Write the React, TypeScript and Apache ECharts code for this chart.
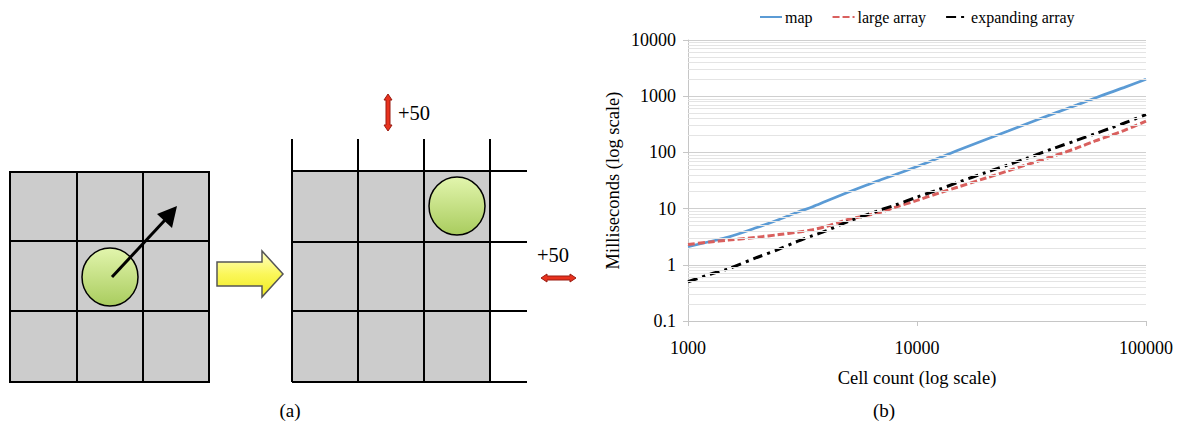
import React, { useEffect, useRef } from "react";
import * as echarts from "echarts";

// ---------- data ----------
const cellCounts = [1000, 1250, 1500, 2000, 2500, 3000, 3500, 4000, 5000, 6000, 7000, 8000, 10000, 12500, 15000, 20000, 25000, 30000, 40000, 50000, 60000, 70000, 80000, 100000];
const mapMs = [2.1, 2.6, 3.1, 4.6, 6.4, 8.6, 10.8, 13.5, 19.5, 26, 33, 40, 56, 80, 108, 170, 240, 320, 500, 700, 930, 1170, 1420, 2000];
const largeArrayMs = [2.3, 2.55, 2.75, 3.1, 3.45, 3.8, 4.2, 4.8, 6.4, 7.5, 8.7, 10.5, 14, 19, 24, 35, 47, 60, 88, 120, 160, 200, 245, 360];
const expandingArrayMs = [0.5, 0.68, 0.85, 1.35, 1.9, 2.6, 3.3, 4.0, 5.9, 7.7, 9.6, 11.5, 16, 22, 29, 44, 60, 78, 120, 165, 215, 270, 330, 470];

const seriesNames = ["map", "large array", "expanding array"];
const yTickLabels = ["0.1", "1", "10", "100", "1000", "10000"];
const xTickLabels = ["1000", "10000", "100000"];
const decades = [0.1, 1, 10, 100, 1000];
const minorMultipliers = [2, 3, 4, 5, 6, 7, 8, 9];

const FONT = "Liberation Serif";

function pairs(ys: number[]) {
  return cellCounts.map((x, i) => [x, ys[i]]);
}

function buildDiagram(): any[] {
  const els: any[] = [];
  const black = { stroke: "#000", lineWidth: 2 };
  const mkGreen = () =>
    new echarts.graphic.LinearGradient(0, 0, 0, 1, [
      { offset: 0, color: "#e2f5ad" },
      { offset: 1, color: "#a9cc5e" },
    ]);
  // Left grid
  els.push({ type: "rect", shape: { x: 10, y: 172, width: 199, height: 210 }, style: { fill: "#cccccc", stroke: "#000", lineWidth: 2 } });
  [77, 143].forEach((x) => els.push({ type: "line", shape: { x1: x, y1: 172, x2: x, y2: 382 }, style: black }));
  [241, 311].forEach((y) => els.push({ type: "line", shape: { x1: 10, y1: y, x2: 209, y2: y }, style: black }));
  els.push({ type: "ellipse", shape: { cx: 110, cy: 277, rx: 28, ry: 29 }, style: { fill: mkGreen(), stroke: "#000", lineWidth: 1.5 } });
  els.push({ type: "line", shape: { x1: 112, y1: 277, x2: 165, y2: 220 }, style: { stroke: "#000", lineWidth: 3 } });
  els.push({ type: "polygon", shape: { points: [[177, 206], [157, 214], [172, 228]] }, style: { fill: "#000" } });

  // Yellow block arrow
  els.push({
    type: "polygon",
    shape: { points: [[217, 262], [262, 262], [262, 251], [283, 274], [262, 297], [262, 286], [217, 286]] },
    style: {
      fill: new echarts.graphic.LinearGradient(0, 0, 0, 1, [
        { offset: 0, color: "#ffffc8" },
        { offset: 0.5, color: "#fbf75a" },
        { offset: 1, color: "#f0ea20" },
      ]),
      stroke: "#555",
      lineWidth: 1.5,
    },
  });

  // Right grid
  els.push({ type: "rect", shape: { x: 292, y: 171, width: 198, height: 211 }, style: { fill: "#cccccc" } });
  [292, 358, 424, 490].forEach((x) => els.push({ type: "line", shape: { x1: x, y1: 139, x2: x, y2: 382 }, style: black }));
  [171, 242, 311, 382].forEach((y) => els.push({ type: "line", shape: { x1: 292, y1: y, x2: 527, y2: y }, style: black }));
  els.push({ type: "ellipse", shape: { cx: 457, cy: 206, rx: 28, ry: 29 }, style: { fill: mkGreen(), stroke: "#000", lineWidth: 1.5 } });

  // Red double arrows
  const redStyle = { fill: "#e8321e", stroke: "#9a1b10", lineWidth: 1 };
  els.push({
    type: "polygon",
    shape: { points: [[388, 94], [392, 100], [390, 100], [390, 125], [392, 125], [388, 131], [384, 125], [386, 125], [386, 100], [384, 100]] },
    style: redStyle,
  });
  els.push({
    type: "polygon",
    shape: { points: [[541, 278], [547, 274], [547, 276], [570, 276], [570, 274], [576, 278], [570, 282], [570, 280], [547, 280], [547, 282]] },
    style: redStyle,
  });
  els.push({ type: "text", style: { text: "+50", x: 398, y: 113, fontSize: 20.5, fontFamily: FONT, fill: "#000", align: "left", verticalAlign: "middle" } });
  els.push({ type: "text", style: { text: "+50", x: 537, y: 255, fontSize: 20.5, fontFamily: FONT, fill: "#000", align: "left", verticalAlign: "middle" } });

  // Captions
  els.push({ type: "text", style: { text: "(a)", x: 290, y: 410, fontSize: 19, fontFamily: FONT, fill: "#000", align: "center", verticalAlign: "middle" } });
  els.push({ type: "text", style: { text: "(b)", x: 884, y: 410, fontSize: 19, fontFamily: FONT, fill: "#000", align: "center", verticalAlign: "middle" } });
  return els;
}

export default function App() {
  const ref = useRef<HTMLDivElement>(null);
  useEffect(() => {
    if (!ref.current) return;
    const chart = echarts.init(ref.current, undefined, { renderer: "svg" });
    const minorValues: number[] = [];
    decades.forEach((d) => minorMultipliers.forEach((m) => minorValues.push(d * m)));

    chart.setOption({
      animation: false,
      backgroundColor: "#fff",
      textStyle: { fontFamily: FONT },
      legend: {
        data: seriesNames,
        left: 759,
        top: 9,
        itemWidth: 22,
        itemHeight: 12,
        itemGap: 19,
        itemStyle: { opacity: 0 },
        padding: 0,
        textStyle: { fontSize: 16, fontFamily: FONT, color: "#000", padding: [0, 0, 0, -2] },
      },
      grid: { left: 688, top: 40, width: 458, height: 281, containLabel: false },
      xAxis: {
        type: "log",
        logBase: 10,
        min: 1000,
        max: 100000,
        name: "Cell count (log scale)",
        nameLocation: "middle",
        nameGap: 47,
        nameTextStyle: { fontSize: 18.5, fontFamily: FONT, color: "#000" },
        axisLine: { lineStyle: { color: "#c6c6c6", width: 1 } },
        axisTick: { show: true, length: 5, lineStyle: { color: "#c6c6c6" } },
        axisLabel: {
          fontSize: 18,
          fontFamily: FONT,
          color: "#000",
          margin: 18,
          formatter: (v: number) => xTickLabels[Math.round(Math.log10(v)) - 3] ?? "",
        },
        splitLine: { show: false },
      },
      yAxis: {
        type: "log",
        logBase: 10,
        min: 0.1,
        max: 10000,
        name: "Milliseconds (log scale)",
        nameLocation: "middle",
        nameGap: 66,
        nameRotate: 90,
        nameTextStyle: { fontSize: 18.5, fontFamily: FONT, color: "#000" },
        axisLine: { show: true, lineStyle: { color: "#c6c6c6", width: 1 } },
        axisTick: { show: true, length: 5, lineStyle: { color: "#c6c6c6" } },
        axisLabel: {
          fontSize: 18,
          fontFamily: FONT,
          color: "#000",
          margin: 12,
          formatter: (v: number) => yTickLabels[Math.round(Math.log10(v)) + 1] ?? "",
        },
        splitLine: { show: true, lineStyle: { color: "#cfcfcf", width: 1 } },
      },
      series: [
        {
          name: "minor-grid",
          type: "line",
          data: [],
          z: 1,
          silent: true,
          markLine: {
            silent: true,
            symbol: "none",
            label: { show: false },
            lineStyle: { color: "#e4e4e4", type: "solid", width: 1 },
            data: minorValues.map((v) => ({ yAxis: v })),
          },
        },
        {
          name: seriesNames[0],
          type: "line",
          data: pairs(mapMs),
          symbol: "none",
          smooth: 0.3,
          z: 3,
          lineStyle: { color: "#5b9bd5", width: 2.75 },
          itemStyle: { color: "#5b9bd5" },
        },
        {
          name: seriesNames[1],
          type: "line",
          data: pairs(largeArrayMs),
          symbol: "none",
          smooth: 0.3,
          z: 3,
          lineStyle: { color: "#d9605e", width: 3, type: [7, 3] },
          itemStyle: { color: "#d9605e" },
        },
        {
          name: seriesNames[2],
          type: "line",
          data: pairs(expandingArrayMs),
          symbol: "none",
          smooth: 0.3,
          z: 3,
          lineStyle: { color: "#000", width: 3, type: [10, 5, 3, 5] },
          itemStyle: { color: "#000" },
        },
      ],
      graphic: buildDiagram(),
    });
    return () => chart.dispose();
  }, []);
  return (
    <div
      ref={ref}
      style={{ position: "absolute", left: 0, top: 0, width: 1177, height: 422, background: "#fff" }}
    />
  );
}
